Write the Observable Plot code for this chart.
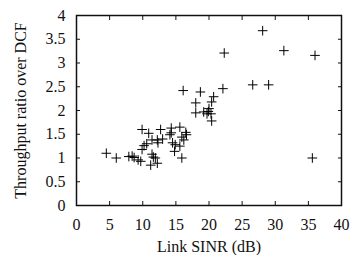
<!DOCTYPE html>
<html>
<head>
<meta charset="utf-8">
<script src="https://cdn.jsdelivr.net/npm/d3@7"></script>
<script src="https://cdn.jsdelivr.net/npm/@observablehq/plot@0.6"></script>
<style>
  html, body { margin: 0; padding: 0; background: #fff; }
  #chart svg { display: block; }
  #chart svg, #chart svg text, #chart svg g { font-family: "Liberation Serif", "Times New Roman", serif !important; }
</style>
</head>
<body>
<div id="chart"></div>
<script>
const sinr = [4.5, 6.0, 7.9, 8.4, 8.7, 9.3, 9.7, 9.9, 9.9, 10.2, 10.6, 10.9, 11.2, 11.4, 11.4, 11.6, 11.9, 12.2, 12.2, 12.3, 12.7, 13.0, 14.1, 14.3, 14.3, 14.5, 14.9, 14.8, 15.6, 15.6, 15.9, 15.9, 16.2, 16.5, 16.6, 16.1, 18.7, 20.7, 22.1, 18.0, 20.4, 18.0, 19.2, 20.0, 19.7, 20.3, 20.4, 22.3, 28.1, 31.3, 36.0, 26.6, 29.0, 35.6, 19.9];
const ratio = [1.10, 1.00, 1.03, 1.04, 1.01, 0.96, 0.93, 1.60, 1.18, 1.26, 1.30, 1.52, 0.85, 1.08, 1.38, 1.02, 1.00, 1.38, 0.89, 1.32, 1.60, 1.40, 1.49, 1.63, 1.53, 1.32, 1.28, 1.14, 1.65, 1.25, 1.00, 1.44, 1.38, 1.54, 1.49, 2.42, 2.39, 2.29, 2.46, 2.16, 2.18, 1.95, 1.97, 2.04, 1.93, 1.93, 1.78, 3.21, 3.68, 3.26, 3.16, 2.54, 2.54, 1.00, 1.98];
const xTicks = [0, 5, 10, 15, 20, 25, 30, 35, 40];
const yTicks = [0, 0.5, 1, 1.5, 2, 2.5, 3, 3.5, 4];
const xLabel = "Link SINR (dB)";
const yLabel = "Throughput ratio over DCF";

const data = sinr.map((x, i) => ({x, y: ratio[i]}));

const chart = Plot.plot({
  width: 355,
  height: 255,
  marginLeft: 76,
  marginRight: 14,
  marginTop: 15,
  marginBottom: 50,
  style: {fontSize: "16px", color: "#111", background: "#fff"},
  x: {domain: [0, 40]},
  y: {domain: [0, 4]},
  marks: [
    Plot.axisX({ticks: xTicks, tickFormat: d => String(d), tickSize: -4, tickPadding: 17, label: xLabel, labelAnchor: "center", labelArrow: "none", labelOffset: 46, fontSize: 16}),
    Plot.axisX({anchor: "top", ticks: xTicks, tickSize: -4, text: null, label: null}),
    Plot.axisY({ticks: yTicks, tickFormat: d => String(d), tickSize: -4, tickPadding: 15, label: yLabel, labelAnchor: "center", labelArrow: "none", labelOffset: 62, fontSize: 16}),
    Plot.axisY({anchor: "right", ticks: yTicks, tickSize: -4, text: null, label: null}),
    Plot.frame({stroke: "#111", strokeWidth: 1.5}),
    Plot.dot(data, {x: "x", y: "y", symbol: "plus", r: 3.2, stroke: "#000", strokeWidth: 1})
  ]
});
document.getElementById("chart").append(chart);
</script>
</body>
</html>
